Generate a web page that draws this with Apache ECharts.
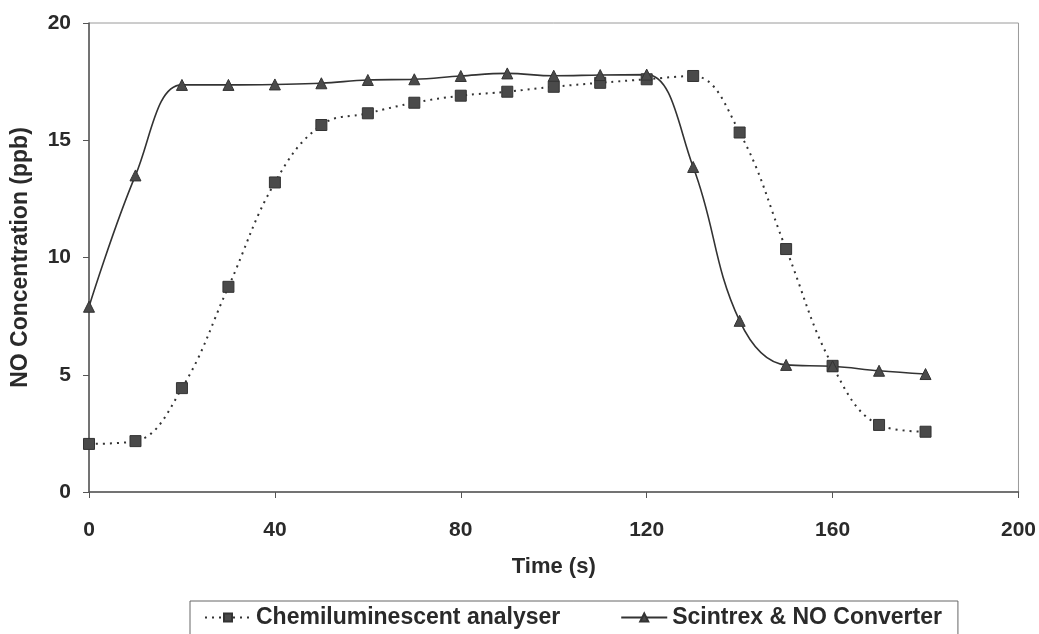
<!DOCTYPE html>
<html>
<head>
<meta charset="utf-8">
<script src="https://cdn.jsdelivr.net/npm/echarts@6/dist/echarts.min.js"></script>
<style>
  html, body { margin: 0; padding: 0; background: #fff; }
  #chart { width: 1039px; height: 634px; }
</style>
</head>
<body>
<div id="chart"></div>
<script>
const times = [0, 10, 20, 30, 40, 50, 60, 70, 80, 90, 100, 110, 120, 130, 140, 150, 160, 170, 180]
const chemValues = [2.05, 2.17, 4.43, 8.75, 13.2, 15.65, 16.15, 16.6, 16.9, 17.07, 17.28, 17.45, 17.6, 17.74, 15.33, 10.36, 5.38, 2.86, 2.57]
const scintrexValues = [7.9, 13.5, 17.36, 17.36, 17.38, 17.43, 17.57, 17.6, 17.74, 17.85, 17.75, 17.78, 17.8, 13.86, 7.3, 5.42, 5.36, 5.17, 5.03]

const chemName = 'Chemiluminescent analyser'
const scintrexName = 'Scintrex & NO Converter'

const toPairs = vals => times.map((t, i) => [t, vals[i]])

const ink = '#333'
const textColor = '#2a2a2a'
const font = 'Liberation Sans, Arial, sans-serif'

const chart = echarts.init(document.getElementById('chart'))
chart.setOption({
  animation: false,
  backgroundColor: '#fff',
  grid: {
    left: 89, right: 20, top: 23, bottom: 142,
    show: true, borderColor: '#9a9a9a', borderWidth: 1
  },
  legend: {
    top: 601, left: 190,
    itemGap: 60, itemWidth: 46, itemHeight: 10,
    padding: [5, 16, 20, 14],
    borderColor: '#666', borderWidth: 1,
    textStyle: { fontFamily: font, fontSize: 23, fontWeight: 'bold', color: textColor },
    data: [chemName, scintrexName]
  },
  xAxis: {
    type: 'value', min: 0, max: 200, interval: 40,
    name: 'Time (s)', nameLocation: 'middle', nameGap: 64,
    nameTextStyle: { fontFamily: font, fontSize: 22, fontWeight: 'bold', color: textColor },
    axisLine: { lineStyle: { color: '#555', width: 1.5 } },
    axisTick: { show: true, length: 6, lineStyle: { color: '#555' } },
    axisLabel: { margin: 28, fontFamily: font, fontSize: 21, fontWeight: 'bold', color: textColor },
    splitLine: { show: false }
  },
  yAxis: {
    type: 'value', min: 0, max: 20, interval: 5,
    name: 'NO Concentration (ppb)', nameLocation: 'middle', nameGap: 57,
    nameTextStyle: { fontFamily: font, fontSize: 23, fontWeight: 'bold', color: textColor },
    axisLine: { show: true, lineStyle: { color: '#555', width: 1.5 } },
    axisTick: { show: true, length: 6, lineStyle: { color: '#555' } },
    axisLabel: { margin: 18, fontFamily: font, fontSize: 21, fontWeight: 'bold', color: textColor },
    splitLine: { show: false }
  },
  series: [
    {
      name: chemName, type: 'line', data: toPairs(chemValues), smooth: 0.4,
      symbol: 'rect', symbolSize: 11,
      lineStyle: { color: ink, width: 2, type: [2, 5] },
      itemStyle: { color: '#4a4a4a', borderColor: '#333', borderWidth: 1 }
    },
    {
      name: scintrexName, type: 'line', data: toPairs(scintrexValues), smooth: 0.4,
      symbol: 'triangle', symbolSize: 11,
      lineStyle: { color: ink, width: 1.6 },
      itemStyle: { color: '#4a4a4a', borderColor: '#333', borderWidth: 1 }
    }
  ]
})
</script>
</body>
</html>
